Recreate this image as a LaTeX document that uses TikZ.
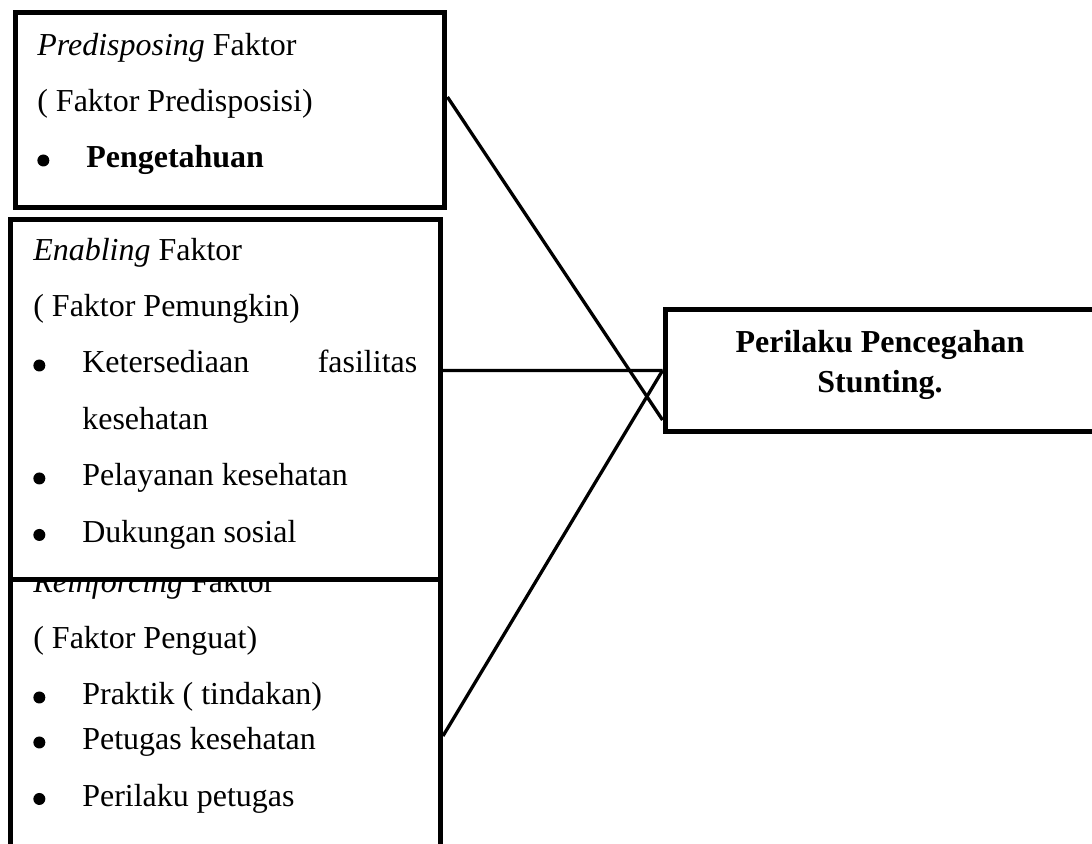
\documentclass[tikz,border=0pt]{standalone}
\usepackage{fontspec}
\setmainfont{Liberation Serif}
\usepackage{tikz}

\newcommand{\titik}{\tikz[baseline=-0.15cm]\fill (0,0) circle (0.12cm);}
\newcommand{\butir}[1]{\makebox[0.98cm][l]{\titik}#1}
\newcommand{\teks}{\fontsize{18.2pt}{1.13cm}\selectfont}

\tikzset{
  kotak/.style={draw, fill=white, line width=0.1cm, inner sep=0cm, minimum width=8.6cm},
  isi/.style={anchor=base west, inner sep=0cm},
  garis/.style={line width=0.066cm}
}

\begin{document}
\begin{tikzpicture}[x=0.02cm,y=-0.02cm]
\useasboundingbox (0,0) rectangle (1092,843);

% reinforcing box first, the enabling box covers its top
\node[kotak, minimum height=6.4cm] (reinf) at (225.5,720) {};
\node[isi] (reinftext) at (33,592) {%
\begin{minipage}[t]{7.68cm}
\teks
\textit{Reinforcing} Faktor\\
( Faktor Penguat)\\
\butir{Praktik ( tindakan)}\\[-0.23cm]
\butir{Petugas kesehatan}\\
\butir{Perilaku petugas}
\end{minipage}%
};

\node[kotak, minimum height=3.89cm] (pred) at (230,110) {};
\node[isi] (predtext) at (37,55) {%
\begin{minipage}[t]{8cm}
\teks
\textit{Predisposing} Faktor\\
( Faktor Predisposisi)\\
\butir{\textbf{Pengetahuan}}
\end{minipage}%
};

\node[kotak, minimum height=7.21cm] (enab) at (225.5,399.75) {};
\node[isi] (enabtext) at (33,260) {%
\begin{minipage}[t]{7.68cm}
\teks
\textit{Enabling} Faktor\\
( Faktor Pemungkin)\\
\butir{\hbox to 6.7cm{Ketersediaan\hfill fasilitas}}\\
\hspace*{0.98cm}kesehatan\\
\butir{Pelayanan kesehatan}\\
\butir{Dukungan sosial}
\end{minipage}%
};

\node[kotak, minimum height=2.44cm] (result) at (880,370.5) {};
\node[align=center, inner sep=0cm, font=\bfseries\fontsize{18.2pt}{0.8cm}\selectfont]
  (resulttext) at (880,364.7) {Perilaku Pencegahan\\Stunting.};

\draw[garis] ([yshift=0.26cm]pred.east) -- ([yshift=-0.99cm]result.west);
\draw[garis] ([yshift=0.585cm]enab.east) -- (result.west);
\draw[garis] ([yshift=-0.32cm]reinf.east) -- (result.west);
\end{tikzpicture}
\end{document}
